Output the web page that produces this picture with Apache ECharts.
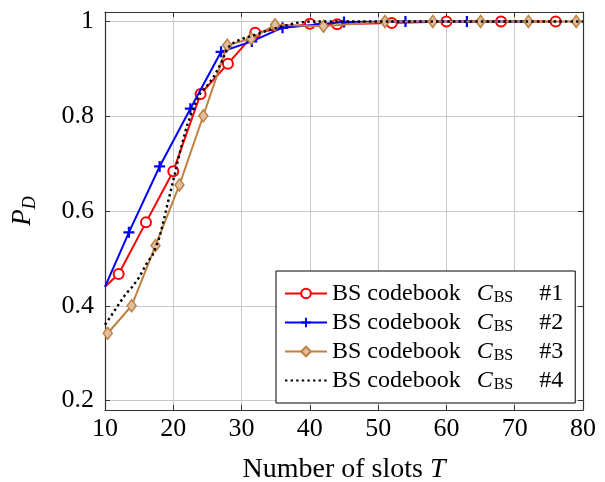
<!DOCTYPE html>
<html>
<head>
<meta charset="utf-8">
<script src="https://cdn.jsdelivr.net/npm/echarts@6/dist/echarts.min.js"></script>
<style>html,body{margin:0;padding:0;background:#fff}#c{width:605px;height:482px}</style>
</head>
<body>
<div id="c"></div>
<script>
// ---- data ----
const xTicks = [10, 20, 30, 40, 50, 60, 70, 80];
const yTicks = [0.2, 0.4, 0.6, 0.8, 1];

const names = ['#1', '#2', '#3', '#4'];

const s1X = [10, 12, 16, 20, 24, 28, 32, 40, 44, 52, 60, 68, 76];
const s1Y = [0.44, 0.467, 0.576, 0.684, 0.847, 0.911, 0.976, 0.995, 0.994, 0.997, 1.0, 1.0, 1.0];

const s2X = [10, 13.5, 18, 22.5, 27, 31.5, 36, 45, 54, 63, 72];
const s2Y = [0.44, 0.555, 0.694, 0.816, 0.936, 0.958, 0.987, 0.999, 1.0, 1.0, 1.0];

const s3X = [10.4, 13.9, 17.4, 20.9, 24.4, 27.9, 31.4, 34.9, 42, 51, 58, 65, 72, 79];
const s3Y = [0.342, 0.400, 0.527, 0.655, 0.801, 0.950, 0.964, 0.993, 0.990, 1.0, 1.0, 1.0, 1.0, 1.0];

const s4X = [10, 11, 12, 13, 14, 15, 16, 17, 18, 19, 20, 21, 22, 23, 24, 25, 26, 27, 28, 29, 30, 32, 34, 36, 38, 40, 45, 50, 60, 70, 80];
const s4Y = [0.36, 0.381, 0.403, 0.424, 0.440, 0.460, 0.487, 0.508, 0.545, 0.605, 0.665, 0.726, 0.78, 0.82, 0.85, 0.865, 0.885, 0.912, 0.945, 0.957, 0.963, 0.972, 0.982, 0.99, 0.997, 1.0, 1.0, 1.0, 1.0, 1.0, 1.0];

// ---- chart ----
const FONT = 'Liberation Serif';
const RED = '#ff0000', BLUE = '#0000ff', BROWN = '#bf8040', BLACK = '#000000';
const FRAME = '#333333';

function pts(xs, ys, noMarkFirst) {
  return xs.map((x, i) => {
    const d = { value: [x, ys[i]] };
    if (noMarkFirst && i === 0) d.symbol = 'none';
    return d;
  });
}

const plusPath = 'path://M4,0h2v4h4v2h-4v4h-2v-4h-4v-2h4z';

const chart = echarts.init(document.getElementById('c'), null, { renderer: 'canvas' });

const xBase = {
  type: 'value', min: 10, max: 80, interval: 10,
  axisLine: { show: true, onZero: false, lineStyle: { color: FRAME, width: 1.2 } },
  axisTick: { show: true, inside: true, length: 5, lineStyle: { color: FRAME } },
  splitLine: { show: false }
};
const yBase = {
  type: 'value', min: 0.18, max: 1.02, splitNumber: 4,
  axisLine: { show: true, onZero: false, lineStyle: { color: FRAME, width: 1.2 } },
  axisTick: { show: true, inside: true, length: 5, lineStyle: { color: FRAME } },
  splitLine: { show: false }
};

const LFS = 24;
const option = {
  backgroundColor: '#ffffff',
  animation: false,
  grid: { left: 105, right: 22, top: 12, bottom: 72, containLabel: false, outerBoundsMode: 'none' },
  xAxis: [
    Object.assign({}, xBase, {
      position: 'bottom',
      splitLine: { show: true, lineStyle: { color: '#c8c8c8', width: 1 } },
      axisLabel: { fontFamily: FONT, fontSize: 26, color: '#000', margin: 6 },
      name: '{n|Number of slots }{i|T}',
      nameLocation: 'middle', nameGap: 46,
      nameTextStyle: {
        fontFamily: FONT, fontSize: 28, color: '#000',
        rich: {
          n: { fontFamily: FONT, fontSize: 28, color: '#000' },
          i: { fontFamily: FONT, fontSize: 28, fontStyle: 'italic', color: '#000' }
        }
      }
    }),
    Object.assign({}, xBase, { position: 'top', axisLabel: { show: false } })
  ],
  yAxis: [
    Object.assign({}, yBase, {
      position: 'left',
      splitLine: { show: true, lineStyle: { color: '#c8c8c8', width: 1 } },
      axisLabel: {
        fontFamily: FONT, fontSize: 26, color: '#000', margin: 11,
        showMinLabel: false, showMaxLabel: false,
        formatter: v => {
          const r = Math.round(v * 10) / 10;
          return yTicks.some(t => Math.abs(t - r) < 1e-9) && Math.abs(v - r) < 1e-6 ? String(r) : '';
        }
      },
      name: '{i|P}{s|D}',
      nameLocation: 'middle', nameGap: 66, nameRotate: 90,
      nameTextStyle: {
        fontFamily: FONT, fontSize: 26, color: '#000',
        rich: {
          i: { fontFamily: FONT, fontSize: 27, fontStyle: 'italic', color: '#000', lineHeight: 32 },
          s: { fontFamily: FONT, fontSize: 18, fontStyle: 'italic', color: '#000', lineHeight: 18, verticalAlign: 'bottom' }
        }
      }
    }),
    Object.assign({}, yBase, { position: 'right', axisLabel: { show: false } })
  ],
  legend: {
    orient: 'vertical',
    left: 276, top: 271,
    padding: [10, 12, 10, 8],
    itemGap: 4,
    itemWidth: 42, itemHeight: 12,
    backgroundColor: '#ffffff',
    borderColor: '#000000', borderWidth: 1,
    data: [
      { name: names[0] }, { name: names[1] }, { name: names[2] },
      { name: names[3], itemStyle: { opacity: 0 } }
    ],
    formatter: name => '{t|BS codebook }{c|C}{s|BS}{h|' + name + '}',
    textStyle: {
      fontFamily: FONT, fontSize: LFS, color: '#000', lineHeight: 25,
      rich: {
        t: { fontFamily: FONT, fontSize: LFS, color: '#000', lineHeight: 25 },
        c: { fontFamily: FONT, fontSize: LFS, fontStyle: 'italic', color: '#000', lineHeight: 25, padding: [0, 1, 0, 10] },
        s: { fontFamily: FONT, fontSize: 16, color: '#000', lineHeight: 17, verticalAlign: 'bottom' },
        h: { fontFamily: FONT, fontSize: LFS, color: '#000', lineHeight: 25, padding: [0, 0, 0, 26] }
      }
    }
  },
  series: [
    {
      name: names[0], type: 'line', data: pts(s1X, s1Y, true),
      symbol: 'emptyCircle', symbolSize: 10, showAllSymbol: true,
      lineStyle: { color: RED, width: 2 },
      itemStyle: { color: RED, borderColor: RED, borderWidth: 2 },
      z: 3
    },
    {
      name: names[1], type: 'line', data: pts(s2X, s2Y, true),
      symbol: plusPath, symbolSize: 11, showAllSymbol: true,
      lineStyle: { color: BLUE, width: 2 },
      itemStyle: { color: BLUE, borderWidth: 0 },
      z: 4
    },
    {
      name: names[2], type: 'line', data: pts(s3X, s3Y, false),
      symbol: 'diamond', symbolSize: [9, 12], showAllSymbol: true,
      lineStyle: { color: BROWN, width: 2 },
      itemStyle: { color: '#dfbf9f', borderColor: BROWN, borderWidth: 1.5 },
      z: 5
    },
    {
      name: names[3], type: 'line', data: pts(s4X, s4Y, false),
      symbol: 'none',
      lineStyle: { color: BLACK, width: 2.4, type: [2.4, 3.2] },
      itemStyle: { color: BLACK },
      z: 6
    }
  ]
};
chart.setOption(option);
</script>
</body>
</html>
